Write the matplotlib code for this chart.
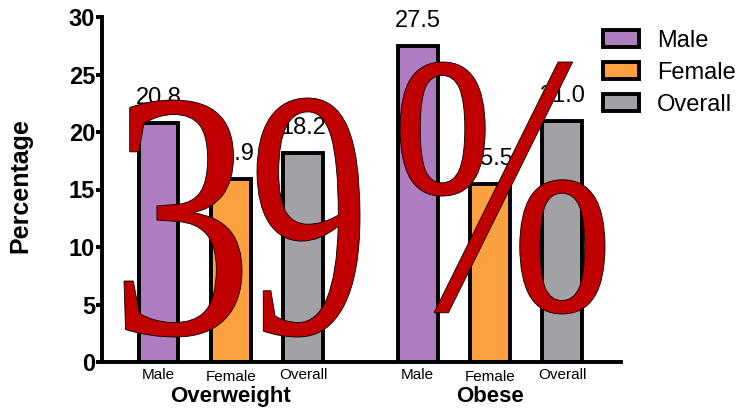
import matplotlib
matplotlib.use("Agg")
import matplotlib.pyplot as plt
from matplotlib.textpath import TextPath
from matplotlib.patches import PathPatch
from matplotlib.font_manager import FontProperties
from matplotlib import transforms
import numpy as np

# Prevalence (%) by weight category and sex
groups = ["Overweight", "Obese"]
sexes = ["Male", "Female", "Overall"]
male = [20.8, 27.5]
female = [15.9, 15.5]
overall = [18.2, 21.0]
series = [male, female, overall]
colors = ["#B07CC0", "#FDA03F", "#A2A1A6"]
yticks = [0, 5, 10, 15, 20, 25, 30]

W, H, DPI = 740, 409, 100
fig = plt.figure(figsize=(W / DPI, H / DPI), dpi=DPI)
ax = fig.add_axes([102 / W, 1 - 362 / H, (621 - 102) / W, (362 - 17) / H])

group_start = np.array([0.0, 3.58])
bar_w = 0.55
lw = 2.8

positions = []
labels = []
for gi, g in enumerate(groups):
    for si, s in enumerate(sexes):
        x = group_start[gi] + si
        v = series[si][gi]
        ax.bar(x, v, width=bar_w, color=colors[si], edgecolor="black",
               linewidth=lw, label=s if gi == 0 else None, zorder=2)
        ax.annotate(f"{v:.1f}", (x, v), xytext=(0, 10), textcoords="offset points",
                    ha="center", va="bottom", fontsize=17, family="Liberation Sans")
        positions.append(x)
        labels.append(s)

ax.set_xlim(-0.78, 6.39)
ax.set_ylim(0, 30)
ax.set_yticks(yticks)
ax.set_yticklabels([str(t) for t in yticks], fontsize=17, fontweight="bold",
                   family="Liberation Sans")
ax.tick_params(axis="y", length=4, width=lw, pad=1)

ax.set_xticks(positions)
ax.set_xticklabels(labels, fontsize=11, family="Liberation Sans")
ax.tick_params(axis="x", which="major", length=0, pad=4)
ax.set_xticks(group_start + 1, minor=True)
ax.tick_params(axis="x", which="minor", length=9, width=lw * 0.7)
for lab in ax.get_xticklabels():
    if lab.get_text() == "Female":
        lab.set_transform(lab.get_transform() +
                          transforms.ScaledTranslation(0, -2 / 72, fig.dpi_scale_trans))

for side in ["top", "right"]:
    ax.spines[side].set_visible(False)
for side in ["left", "bottom"]:
    ax.spines[side].set_linewidth(lw)

ax.set_ylabel("Percentage", fontsize=18, fontweight="bold", family="Liberation Sans")
ax.yaxis.set_label_coords(-0.135, 0.51)

blend = transforms.blended_transform_factory(ax.transData, ax.transAxes)
for gi, g in enumerate(groups):
    ax.text(group_start[gi] + 1, -0.1, g, transform=blend, ha="center", va="center",
            fontsize=16, fontweight="bold", family="Liberation Sans")

leg = fig.legend(loc="upper left", bbox_to_anchor=(603 / W, 1 - 30 / H), frameon=False,
                 prop={"family": "Liberation Sans", "size": 17},
                 handlelength=1.53, handleheight=0.76, handletextpad=0.76,
                 labelspacing=0.42, borderpad=0, borderaxespad=0)

# Large red "39%" stamp drawn over the chart, one glyph at a time
serif = FontProperties(family="Liberation Serif")
glyph_boxes = [("3", 124, 242, 100, 337), ("9", 257, 360, 98, 337), ("%", 400, 605, 62, 314)]
for ch, x0, x1, top, bot in glyph_boxes:
    p = TextPath((0, 0), ch, size=1, prop=serif)
    ext = p.get_extents()
    sx = (x1 - x0) / ext.width
    sy = (bot - top) / ext.height
    tr = (transforms.Affine2D().translate(-ext.x0, -ext.y0).scale(sx, sy)
          .translate(x0, H - bot))
    patch = PathPatch(tr.transform_path(p), facecolor="#C00000", edgecolor="black",
                      linewidth=0.6, transform=transforms.IdentityTransform(), zorder=10)
    fig.add_artist(patch)

fig.savefig("out.png", dpi=DPI)
